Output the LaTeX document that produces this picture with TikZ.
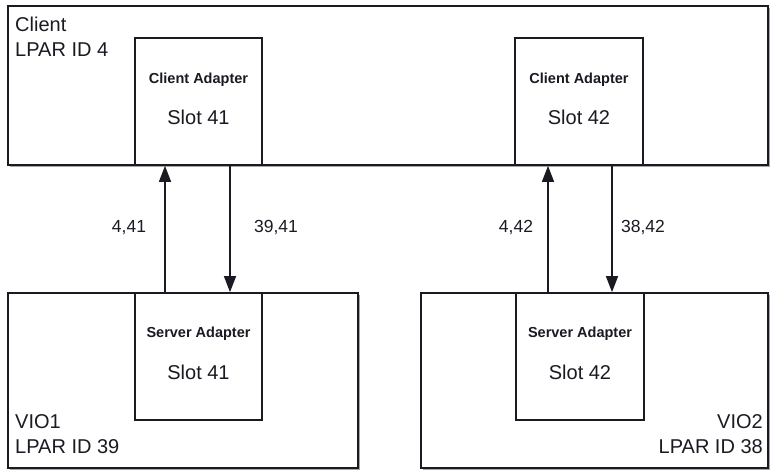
\documentclass[tikz,border=0pt]{standalone}
\usepackage{fontspec}
\setmainfont{Liberation Sans}
\usetikzlibrary{arrows.meta}
\definecolor{ink}{HTML}{1A1A22}
\begin{document}
\begin{tikzpicture}[x=1pt,y=-1pt,
  box/.style={draw=ink,line width=1.7pt,fill=white,rectangle,inner sep=0pt},
  shadowbox/.style={fill=black!35,rectangle,inner sep=0pt,draw=none},
  big/.style={font=\fontsize{20}{24}\selectfont,text=ink,inner sep=0pt},
  small/.style={font=\fontsize{14.5}{17}\selectfont\bfseries,text=ink,inner sep=0pt},
  lbl/.style={font=\fontsize{17.5}{20}\selectfont,text=ink,inner sep=0pt},
  link/.style={draw=ink,line width=1.4pt,-{Triangle[length=16pt,width=12pt]}}]
\useasboundingbox (0,0) rectangle (770,470);
% shadows
\node[shadowbox,minimum width=760pt,minimum height=159pt] at (390,87.5) {};
\node[shadowbox,minimum width=350pt,minimum height=175pt] at (185,382.5) {};
\node[shadowbox,minimum width=347pt,minimum height=175pt] at (596.5,382.5) {};
% outer boxes
\node[box,minimum width=760pt,minimum height=159pt] (client) at (388,85.5) {};
\node[box,minimum width=350pt,minimum height=175pt] (vio1) at (183,380.5) {};
\node[box,minimum width=347pt,minimum height=175pt] (vio2) at (594.5,380.5) {};
% adapters
\node[box,minimum width=127pt,minimum height=127pt] (ca1) at (198.5,101.5) {};
\node[box,minimum width=128pt,minimum height=127pt] (ca2) at (579,101.5) {};
\node[box,minimum width=127pt,minimum height=127pt] (sa1) at (198.5,356.5) {};
\node[box,minimum width=128pt,minimum height=127pt] (sa2) at (580,356.5) {};
% adapter texts
\node[small] (ca1t) at (198.5,80) {Client Adapter};
\node[big] (ca1s) at (198.5,117.5) {Slot 41};
\node[small] (ca2t) at (579,80) {Client Adapter};
\node[big] (ca2s) at (579,117.5) {Slot 42};
\node[small] (sa1t) at (198.5,334) {Server Adapter};
\node[big] (sa1s) at (198.5,372.5) {Slot 41};
\node[small] (sa2t) at (580,334) {Server Adapter};
\node[big] (sa2s) at (580,372.5) {Slot 42};
% outer labels
\node[big,anchor=base west] (cl1) at (15,32) {Client};
\node[big,anchor=base west] (cl2) at (15,57) {LPAR ID 4};
\node[big,anchor=base west] (v11) at (15,428) {VIO1};
\node[big,anchor=base west] (v12) at (15,453) {LPAR ID 39};
\node[big,anchor=base east] (v21) at (763,428) {VIO2};
\node[big,anchor=base east] (v22) at (763,453) {LPAR ID 38};
% connectors
\draw[link] ([xshift=-33.5pt]sa1.north) -- ([xshift=-33.5pt]ca1.south);
\draw[link] ([xshift=31.5pt]ca1.south) -- ([xshift=31.5pt]sa1.north);
\draw[link] ([xshift=-32pt]sa2.north) -- ([xshift=-31pt]ca2.south);
\draw[link] ([xshift=33pt]ca2.south) -- ([xshift=32pt]sa2.north);
% connector labels
\node[lbl] (l1) at (129,228) {4,41};
\node[lbl] (l2) at (276,228) {39,41};
\node[lbl] (l3) at (516,228) {4,42};
\node[lbl] (l4) at (643,228) {38,42};
\end{tikzpicture}
\end{document}
